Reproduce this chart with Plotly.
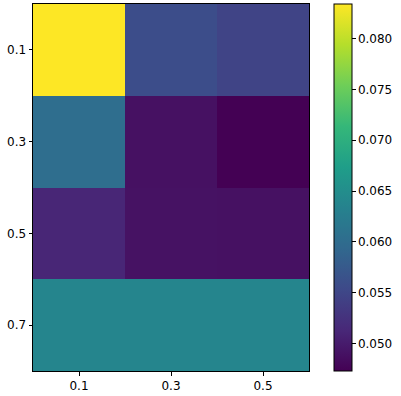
import plotly.graph_objects as go

x_labels = ["0.1", "0.3", "0.5"]
y_labels = ["0.1", "0.3", "0.5", "0.7"]

# rows follow y_labels (top to bottom), columns follow x_labels
row_01 = [0.0834, 0.0558, 0.0547]
row_03 = [0.0602, 0.0489, 0.0473]
row_05 = [0.0511, 0.0490, 0.0489]
row_07 = [0.0638, 0.0638, 0.0638]
z = [row_01, row_03, row_05, row_07]

fig = go.Figure(go.Heatmap(
    z=z,
    x=list(range(len(x_labels))),
    y=list(range(len(y_labels))),
    colorscale="Viridis",
    zmin=0.0473, zmax=0.0834,
    colorbar=dict(
        x=1.0906, xanchor="left", xpad=0, ypad=0,
        y=0.5, len=1, thickness=18,
        outlinewidth=1, outlinecolor="black",
        ticks="outside", ticklen=3.5, tickcolor="black",
        tickvals=[0.050, 0.055, 0.060, 0.065, 0.070, 0.075, 0.080],
        tickformat=".3f",
        tickfont=dict(size=12, color="black"),
    ),
))

axis_style = dict(
    showline=True, linecolor="black", linewidth=1, mirror=True,
    ticks="outside", ticklen=3.5, tickcolor="black",
    showgrid=False, zeroline=False, automargin=False,
    tickfont=dict(size=12, color="black"),
)

fig.update_xaxes(tickvals=[0, 1, 2], ticktext=x_labels, range=[-0.5, 2.5], **axis_style)
fig.update_yaxes(tickvals=[0, 1, 2, 3], ticktext=y_labels, range=[3.5, -0.5], **axis_style)

fig.update_layout(
    width=401, height=396,
    margin=dict(l=33, r=92, t=4, b=25),
    paper_bgcolor="white", plot_bgcolor="white",
    font=dict(family="DejaVu Sans", size=12, color="black"),
)

# drop the browser's default page margin so the figure sits at the corner
fig.write_html("out.html", config={"displayModeBar": False},
               post_script="document.body.style.margin='0';")
